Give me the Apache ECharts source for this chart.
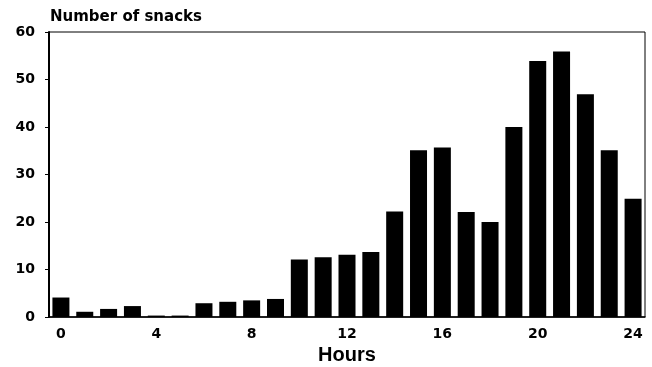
<!DOCTYPE html>
<html>
<head>
<meta charset="utf-8">
<script src="https://cdn.jsdelivr.net/npm/echarts@6/dist/echarts.min.js"></script>
<style>
html,body{margin:0;padding:0;background:#fff;}
#chart{width:652px;height:367px;}
</style>
</head>
<body>
<div id="chart"></div>
<script>
const hours = ['0','1','2','3','4','5','6','7','8','9','10','11','12','13','14','15','16','17','18','19','20','21','22','23','24'];
const snacks = [4.1,1.1,1.7,2.3,0.3,0.3,2.9,3.2,3.5,3.8,12.1,12.6,13.1,13.7,22.2,35.1,35.7,22.1,20,40,53.9,55.9,46.9,35.1,24.9];
const yTitle = 'Number of snacks';
const xTitle = 'Hours';

const chart = echarts.init(document.getElementById('chart'), null, {renderer:'canvas'});
const font = '"Liberation Sans", Arial, sans-serif';
const wide = '"DejaVu Sans", sans-serif';
chart.setOption({
  animation: false,
  backgroundColor: '#fff',
  title: {
    text: yTitle,
    left: 45, top: 5,
    textStyle: {fontFamily: wide, fontSize: 15, fontWeight: 'bold', color: '#000'}
  },
  grid: {left: 49, right: 7, top: 32, bottom: 50, outerBoundsMode: 'none', show: true, borderColor: '#000', borderWidth: 1, backgroundColor: 'transparent'},
  xAxis: {
    type: 'category',
    data: hours,
    boundaryGap: true,
    name: xTitle,
    nameLocation: 'middle',
    nameGap: 28,
    nameTextStyle: {fontFamily: font, fontSize: 20, fontWeight: 'bold', color: '#000'},
    axisLine: {show: true, lineStyle: {color: '#000', width: 1.5}},
    axisTick: {show: false},
    axisLabel: {interval: 3, margin: 10, fontFamily: wide, fontSize: 14, fontWeight: 'bold', color: '#000'},
    splitLine: {show: false}
  },
  yAxis: {
    type: 'value',
    min: 0, max: 60, interval: 10,
    axisLine: {show: true, lineStyle: {color: '#000', width: 2}},
    axisTick: {show: true, length: 4, lineStyle: {color: '#000', width: 1}},
    axisLabel: {margin: 14, fontFamily: wide, fontSize: 14, fontWeight: 'bold', color: '#000'},
    splitLine: {show: false}
  },
  series: [{
    type: 'bar',
    data: snacks,
    barWidth: 17,
    itemStyle: {color: '#000'}
  }]
});
</script>
</body>
</html>
